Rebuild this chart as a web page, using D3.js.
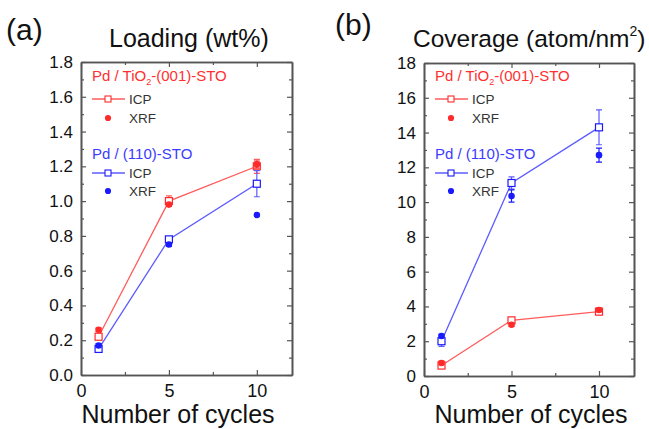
<!DOCTYPE html>
<html><head><meta charset="utf-8">
<script src="https://cdn.jsdelivr.net/npm/d3@7"></script>
<style>
body{margin:0;background:#fff;}
svg{display:block;font-family:"Liberation Sans",Arial,sans-serif;}
</style></head>
<body><svg id="c" width="649" height="429"></svg>
<script>
// ---- data ----
const cycles = [1, 5, 10];
const xTicks = [0, 5, 10];
const xMinor = [2.5, 7.5];
// (a) Loading (wt%)
const loadTicks = [0, 0.2, 0.4, 0.6, 0.8, 1.0, 1.2, 1.4, 1.6, 1.8];
const loadMinor = [0.1, 0.3, 0.5, 0.7, 0.9, 1.1, 1.3, 1.5, 1.7];
const loadRedICP = [0.22, 1.00, 1.20];
const loadRedICPErr = [0.01, 0.03, 0.04];
const loadRedXRF = [0.26, 0.98, 1.21];
const loadRedXRFErr = [0.01, 0.01, 0.02];
const loadBlueICP = [0.15, 0.78, 1.10];
const loadBlueICPErr = [0.01, 0.01, 0.075];
const loadBlueXRF = [0.17, 0.75, 0.92];
const loadBlueXRFErr = [0.01, 0.01, 0.0];
// (b) Coverage (atom/nm2)
const covTicks = [0, 2, 4, 6, 8, 10, 12, 14, 16, 18];
const covMinor = [1, 3, 5, 7, 9, 11, 13, 15, 17];
const covRedICP = [0.6, 3.2, 3.7];
const covRedICPErr = [0.1, 0.1, 0.1];
const covRedXRF = [0.75, 2.95, 3.8];
const covRedXRFErr = [0.1, 0.1, 0.1];
const covBlueICP = [2.0, 11.1, 14.3];
const covBlueICPErr = [0.3, 0.35, 1.0];
const covBlueXRF = [2.3, 10.35, 12.7];
const covBlueXRFErr = [0.1, 0.35, 0.4];

const RED = "#ff2a2a", RED_L = "#ff5c5c", BLUE = "#1a1aff", BLUE_L = "#5c5cff", AX = "#555";

const svg = d3.select("#c");

function panel(opt){
  const x = d3.scaleLinear().domain([0,12]).range([opt.x0, opt.x1]);
  const y = d3.scaleLinear().domain([0, opt.ymax]).range([opt.y0, opt.y1]);
  const g = svg.append("g");
  const fmt = opt.fmt;
  const bottom = g.append("g").attr("transform",`translate(0,${opt.y0})`)
    .call(d3.axisBottom(x).tickValues(xTicks).tickSizeInner(-5).tickSizeOuter(0).tickPadding(9));
  bottom.selectAll("text").attr("font-size",18).attr("fill","#111");
  g.append("g").attr("transform",`translate(0,${opt.y0})`)
    .call(d3.axisBottom(x).tickValues(xMinor).tickSizeInner(-3).tickSizeOuter(0).tickFormat(""));
  g.append("g").attr("transform",`translate(0,${opt.y1})`)
    .call(d3.axisTop(x).tickValues(xTicks).tickSizeInner(-5).tickSizeOuter(0).tickFormat(""));
  g.append("g").attr("transform",`translate(0,${opt.y1})`)
    .call(d3.axisTop(x).tickValues(xMinor).tickSizeInner(-3).tickSizeOuter(0).tickFormat(""));
  const left = g.append("g").attr("transform",`translate(${opt.x0},0)`)
    .call(d3.axisLeft(y).tickValues(opt.ticks).tickSizeInner(-5).tickSizeOuter(0).tickPadding(8).tickFormat(fmt));
  left.selectAll("text").attr("font-size",17).attr("fill","#111");
  g.append("g").attr("transform",`translate(${opt.x0},0)`)
    .call(d3.axisLeft(y).tickValues(opt.minor).tickSizeInner(-3).tickSizeOuter(0).tickFormat(""));
  g.append("g").attr("transform",`translate(${opt.x1},0)`)
    .call(d3.axisRight(y).tickValues(opt.ticks).tickSizeInner(-5).tickSizeOuter(0).tickFormat(""));
  g.append("g").attr("transform",`translate(${opt.x1},0)`)
    .call(d3.axisRight(y).tickValues(opt.minor).tickSizeInner(-3).tickSizeOuter(0).tickFormat(""));
  g.selectAll(".domain").attr("stroke",AX).attr("stroke-width",1.6);
  g.selectAll(".tick line").attr("stroke",AX).attr("stroke-width",1.2);

  g.append("text").attr("x",opt.xlabX).attr("y",423).attr("text-anchor","middle")
    .attr("font-size",25).attr("fill","#111").text("Number of cycles");

  const line = d3.line().x((d,i)=>x(cycles[i])).y(d=>y(d));
  function series(vals, errs, col, lcol, icp){
    if(icp) g.append("path").datum(vals).attr("d",line).attr("fill","none").attr("stroke",lcol).attr("stroke-width",1.3);
    vals.forEach((v,i)=>{
      const e = errs[i];
      if(e>0){
        const cx = x(cycles[i]);
        g.append("path").attr("d",`M${cx},${y(v-e)}V${y(v+e)}M${cx-3},${y(v-e)}H${cx+3}M${cx-3},${y(v+e)}H${cx+3}`)
          .attr("stroke",icp?lcol:col).attr("stroke-width",1.2).attr("fill","none");
      }
    });
    vals.forEach((v,i)=>{
      if(icp){
        g.append("rect").attr("x",x(cycles[i])-3.5).attr("y",y(v)-3.5).attr("width",7).attr("height",7)
          .attr("fill","#fff").attr("stroke",col).attr("stroke-width",1.2);
      } else {
        g.append("path").attr("d",d3.symbol().type(d3.symbolCircle).size(34)())
          .attr("transform",`translate(${x(cycles[i])},${y(v)})`).attr("fill",col);
      }
    });
  }
  series(opt.rICP, opt.rICPe, RED, RED_L, true);
  series(opt.bICP, opt.bICPe, BLUE, BLUE_L, true);
  series(opt.rXRF, opt.rXRFe, RED, RED_L, false);
  series(opt.bXRF, opt.bXRFe, BLUE, BLUE_L, false);

  const lx = opt.x0 + 11;
  const t1 = g.append("text").attr("x",lx).attr("y",81).attr("font-size",15).attr("fill","#ff3030");
  t1.append("tspan").text("Pd / TiO");
  t1.append("tspan").attr("font-size",9).attr("dy",4).text("2");
  t1.append("tspan").attr("dy",-4).text("-(001)-STO");
  function legRow(yy, col, lcol, icp, label){
    if(icp){
      g.append("line").attr("x1",lx).attr("x2",lx+33).attr("y1",yy).attr("y2",yy).attr("stroke",lcol).attr("stroke-width",1.3);
      g.append("rect").attr("x",lx+13).attr("y",yy-3).attr("width",6).attr("height",6).attr("fill","#fff").attr("stroke",col).attr("stroke-width",1.1);
    } else {
      g.append("path").attr("d",d3.symbol().type(d3.symbolCircle).size(30)()).attr("transform",`translate(${lx+16},${yy})`).attr("fill",col);
    }
    g.append("text").attr("x",lx+37).attr("y",yy+5).attr("font-size",13.5).attr("fill","#333").text(label);
  }
  legRow(99, RED, RED_L, true, "ICP");
  legRow(118, RED, RED_L, false, "XRF");
  g.append("text").attr("x",lx).attr("y",159).attr("font-size",15).attr("fill","#3b3bff").text("Pd / (110)-STO");
  legRow(173, BLUE, BLUE_L, true, "ICP");
  legRow(191, BLUE, BLUE_L, false, "XRF");
}

panel({x0:81, x1:292, y0:375, y1:62, ymax:1.8, ticks:loadTicks, minor:loadMinor, fmt:d3.format(".1f"), xlabX:178,
  rICP:loadRedICP, rICPe:loadRedICPErr, rXRF:loadRedXRF, rXRFe:loadRedXRFErr,
  bICP:loadBlueICP, bICPe:loadBlueICPErr, bXRF:loadBlueXRF, bXRFe:loadBlueXRFErr});
panel({x0:424, x1:634, y0:376, y1:63, ymax:18, ticks:covTicks, minor:covMinor, fmt:d3.format("d"), xlabX:531,
  rICP:covRedICP, rICPe:covRedICPErr, rXRF:covRedXRF, rXRFe:covRedXRFErr,
  bICP:covBlueICP, bICPe:covBlueICPErr, bXRF:covBlueXRF, bXRFe:covBlueXRFErr});

svg.append("text").attr("x",6).attr("y",40).attr("font-size",30).attr("fill","#111").text("(a)");
svg.append("text").attr("x",109).attr("y",47).attr("font-size",25).attr("fill","#111").text("Loading (wt%)");
svg.append("text").attr("x",335).attr("y",35).attr("font-size",30).attr("fill","#111").text("(b)");
const ct = svg.append("text").attr("x",413).attr("y",47).attr("font-size",24.5).attr("fill","#111");
ct.append("tspan").text("Coverage (atom/nm");
ct.append("tspan").attr("font-size",14).attr("dy",-11).text("2");
ct.append("tspan").attr("dy",11).text(")");
</script></body></html>
